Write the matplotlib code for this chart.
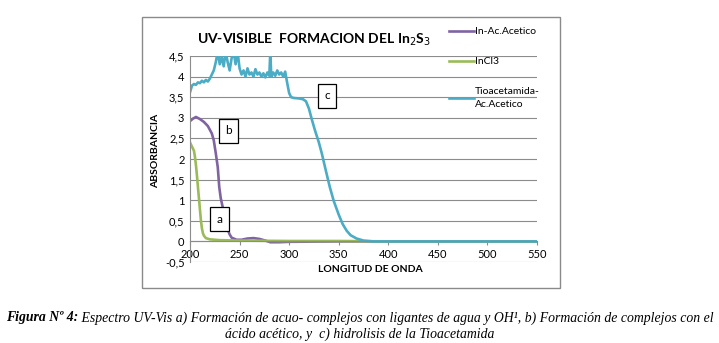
import matplotlib
matplotlib.use("Agg")
import matplotlib.pyplot as plt
from matplotlib.patches import Rectangle
from matplotlib.ticker import FuncFormatter

# ── Data ──────────────────────────────────────────────────────
wl_incl3 = [200, 202, 204, 205, 206, 207, 208, 209, 210, 211, 212, 213, 214,
            216, 220, 230, 250, 300, 350, 400, 550]
abs_incl3 = [2.40, 2.30, 2.20, 2.05, 1.85, 1.60, 1.32, 1.05, 0.78, 0.51, 0.32,
             0.20, 0.14, 0.08, 0.05, 0.03, 0.02, 0.01, 0.01, 0.0, 0.0]

wl_acetico = [200, 203, 206, 210, 214, 218, 222, 224, 226, 228, 229.5, 231, 233,
              235, 237, 240, 242, 247, 252, 258, 264, 270, 276, 281, 290, 300,
              350, 400, 550]
abs_acetico = [2.92, 2.98, 3.02, 2.97, 2.90, 2.80, 2.62, 2.45, 2.14, 1.80, 1.32,
               1.05, 0.83, 0.55, 0.35, 0.17, 0.09, 0.04, 0.04, 0.07, 0.08, 0.06,
               0.02, -0.02, -0.02, -0.01, 0.0, 0.0, 0.0]

wl_tioacet = [200, 202, 204, 206, 208, 210, 212, 214, 216, 218, 220, 222, 224,
              226, 228, 230, 232, 234, 236, 238, 240, 242, 244, 246, 248, 250,
              252, 254, 256, 258, 260, 262, 264, 266, 268, 270, 272, 274, 276,
              278, 280, 281, 282, 284, 286, 288, 290, 292, 294, 296, 298, 300,
              302, 305, 310, 314, 317, 320, 323, 326, 330, 333, 337, 341, 345,
              350, 354, 358, 362, 368, 375, 385, 400, 550]
abs_tioacet = [3.62, 3.78, 3.82, 3.80, 3.86, 3.84, 3.90, 3.86, 3.92, 3.88, 3.95,
               4.05, 4.15, 4.35, 4.60, 4.30, 4.48, 4.25, 4.60, 4.35, 4.15, 4.45,
               4.60, 4.30, 4.60, 4.20, 4.05, 4.15, 4.00, 4.20, 4.05, 4.10, 4.00,
               4.18, 4.05, 4.10, 4.00, 4.08, 3.98, 4.10, 4.02, 4.60, 4.00, 4.10,
               4.02, 4.15, 4.05, 4.10, 4.00, 4.12, 3.85, 3.60, 3.50, 3.48, 3.47,
               3.45, 3.40, 3.22, 2.95, 2.70, 2.40, 2.13, 1.72, 1.32, 0.98, 0.65,
               0.42, 0.26, 0.15, 0.07, 0.02, 0.0, 0.0, 0.0]

x_ticks = [200, 250, 300, 350, 400, 450, 500, 550]
y_ticks = [-0.5, 0, 0.5, 1, 1.5, 2, 2.5, 3, 3.5, 4, 4.5]

# letter tags: (label, wavelength, absorbance)
tags = [("a", 230, 0.54), ("b", 239, 2.68), ("c", 338, 3.53)]

C_ACET = "#8064A2"
C_INCL = "#9BBB59"
C_TIO = "#4BACC6"
GRID = "#8c8c8c"

W, H = 719, 343
fig = plt.figure(figsize=(W / 100, H / 100), dpi=100)
fig.patch.set_facecolor("white")

plt.rcParams["font.family"] = ["Lato", "DejaVu Sans"]

# axes placed by pixel box: x 190..537, y 56..262
ax = fig.add_axes([190 / W, 1 - 262 / H, (537 - 190) / W, (262 - 56) / H])
ax.set_xlim(200, 550)
ax.set_ylim(-0.5, 4.5)

ax.plot(wl_acetico, abs_acetico, color=C_ACET, lw=1.9, label="In-Ac.Acetico")
ax.plot(wl_incl3, abs_incl3, color=C_INCL, lw=1.9, label="InCl3")
ax.plot(wl_tioacet, abs_tioacet, color=C_TIO, lw=1.9, label="Tioacetamida-\nAc.Acetico")

ax.set_xticks(x_ticks)
ax.set_yticks(y_ticks)
ax.yaxis.set_major_formatter(FuncFormatter(lambda v, _: f"{v:g}".replace(".", ",")))
ax.grid(axis="y", color=GRID, lw=0.8)
ax.set_axisbelow(True)

for s in ("top", "right"):
    ax.spines[s].set_visible(False)
ax.spines["bottom"].set_position(("data", 0))
ax.spines["bottom"].set_color(GRID)
ax.spines["left"].set_color(GRID)
ax.tick_params(axis="y", length=0, pad=4, labelsize=8)
ax.tick_params(axis="x", length=3, color=GRID, pad=2.5, labelsize=8)

for txt, x, y in tags:
    ax.text(x, y, txt, ha="center", va="center", fontsize=8.5,
            bbox=dict(boxstyle="square,pad=0.55", fc="white", ec="black", lw=0.9))

fig.text(314 / W, 1 - 40 / H, "UV-VISIBLE  FORMACION DEL In$_2$S$_3$",
         ha="center", va="center", fontsize=10, fontweight="bold")
fig.text(156 / W, 1 - 151 / H, "ABSORBANCIA", rotation=90, ha="center",
         va="center", fontsize=7.5, fontweight="bold")
fig.text(370 / W, 1 - 269 / H, "LONGITUD DE ONDA", ha="center", va="center",
         fontsize=7.5, fontweight="bold")

leg = fig.legend(loc="upper left", bbox_to_anchor=(449 / W, 1 - 27 / H), frameon=False,
                 fontsize=7.5, handlelength=2.4, handletextpad=0.1, labelspacing=2.0,
                 borderaxespad=0, borderpad=0)
leg.get_texts()[2].set_linespacing(1.5)

# chart frame
fig.add_artist(Rectangle((142 / W, 1 - 288 / H), (560 - 142) / W, (288 - 17) / H,
                         transform=fig.transFigure, fill=False, ec="#8a8a8a", lw=1))

# caption: bold-italic lead followed by italic text
serif = "Liberation Serif"
cap_size = 9.9
r = fig.canvas.get_renderer()
lead = fig.text(0, 1 - 318 / H, "Figura Nº 4:", family=serif, style="italic",
                fontweight="bold", fontsize=cap_size, va="center")
rest = fig.text(0, 1 - 318 / H,
                " Espectro UV-Vis a) Formación de acuo- complejos con ligantes de agua y "
                "OH¹, b) Formación de complejos con el",
                family=serif, style="italic", fontsize=cap_size, va="center")
w1 = lead.get_window_extent(r).width
w2 = rest.get_window_extent(r).width
x0 = (W / 2 - (w1 + w2) / 2)
lead.set_x(x0 / W)
rest.set_x((x0 + w1) / W)
fig.text(0.5, 1 - 334 / H, "ácido acético, y  c) hidrolisis de la Tioacetamida",
         family=serif, style="italic", fontsize=cap_size, ha="center", va="center")

fig.savefig("out.png", dpi=100, facecolor="white")
